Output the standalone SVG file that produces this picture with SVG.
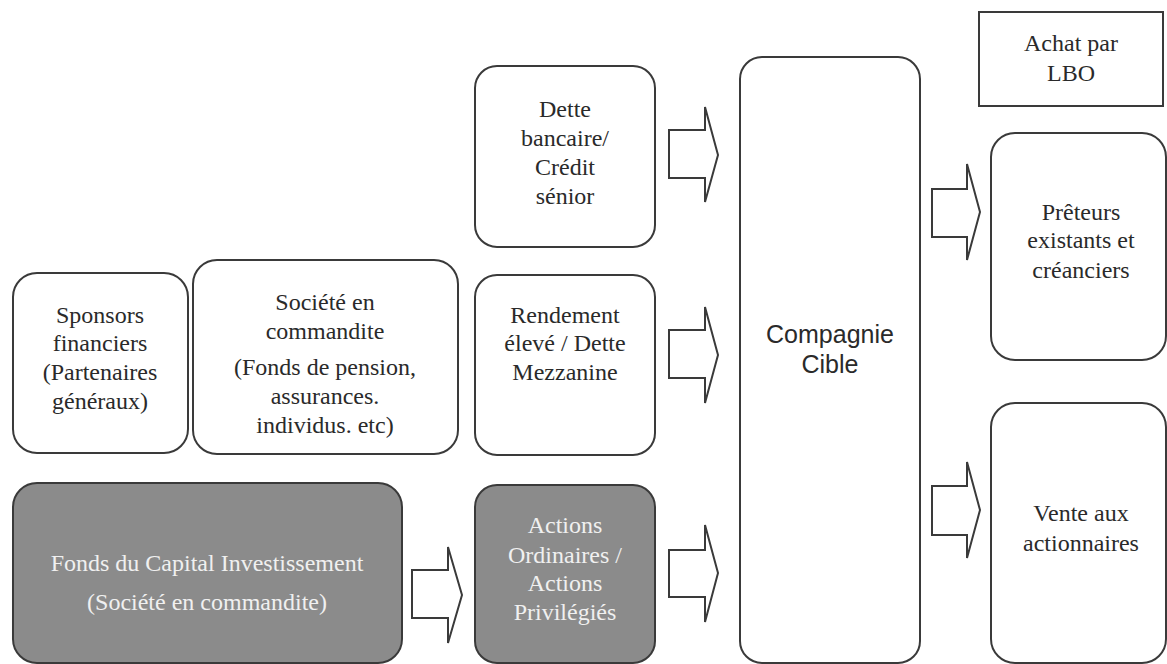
<svg xmlns="http://www.w3.org/2000/svg" width="1167" height="664" viewBox="0 0 1167 664">
<style>
.box{fill:#fff;stroke:#3a3a3a;stroke-width:2}
.gbox{fill:#8b8b8b;stroke:#3a3a3a;stroke-width:2}
.arr{fill:#fff;stroke:#3a3a3a;stroke-width:2;stroke-linejoin:miter}
.t{font-family:"Liberation Serif","Times New Roman",serif;font-size:24px;fill:#2a2a2a;text-anchor:middle}
.tw{font-family:"Liberation Serif","Times New Roman",serif;font-size:24px;fill:#f0f0f0;text-anchor:middle}
.ts{font-family:"Liberation Sans",Arial,sans-serif;font-size:25px;fill:#2a2a2a;text-anchor:middle}
</style>
<rect width="1167" height="664" fill="#fff"/>
<g id="achat">
<rect class="box" x="979" y="12" width="184" height="94"/>
<text class="t" x="1071" y="51">Achat par</text>
<text class="t" x="1071" y="81">LBO</text>
</g>
<g id="dette">
<rect class="box" x="475" y="66" width="180" height="181" rx="22"/>
<text class="t" x="565" y="117">Dette</text>
<text class="t" x="565" y="146">bancaire/</text>
<text class="t" x="565" y="175">Crédit</text>
<text class="t" x="565" y="204">sénior</text>
</g>
<g id="sponsors">
<rect class="box" x="13" y="273" width="175" height="180" rx="24"/>
<text class="t" x="100" y="323">Sponsors</text>
<text class="t" x="100" y="351">financiers</text>
<text class="t" x="100" y="380">(Partenaires</text>
<text class="t" x="100" y="409">généraux)</text>
</g>
<g id="societe">
<rect class="box" x="193" y="260" width="265" height="194" rx="24"/>
<text class="t" x="325" y="310">Société en</text>
<text class="t" x="325" y="339">commandite</text>
<text class="t" x="325" y="375">(Fonds de pension,</text>
<text class="t" x="325" y="404">assurances.</text>
<text class="t" x="325" y="433">individus. etc)</text>
</g>
<g id="rendement">
<rect class="box" x="475" y="275" width="180" height="180" rx="22"/>
<text class="t" x="565" y="323">Rendement</text>
<text class="t" x="565" y="351">élevé / Dette</text>
<text class="t" x="565" y="380">Mezzanine</text>
</g>
<g id="fonds">
<rect class="gbox" x="13" y="483" width="389" height="180" rx="24"/>
<text class="tw" x="207" y="571">Fonds du Capital Investissement</text>
<text class="tw" x="207" y="610">(Société en commandite)</text>
</g>
<g id="actions">
<rect class="gbox" x="475" y="485" width="180" height="178" rx="22"/>
<text class="tw" x="565" y="533">Actions</text>
<text class="tw" x="565" y="563">Ordinaires /</text>
<text class="tw" x="565" y="591">Actions</text>
<text class="tw" x="565" y="620">Privilégiés</text>
</g>
<g id="compagnie">
<rect class="box" x="740" y="57" width="180" height="606" rx="22"/>
<text class="ts" x="830" y="343">Compagnie</text>
<text class="ts" x="830" y="373">Cible</text>
</g>
<g id="preteurs">
<rect class="box" x="991" y="133" width="175" height="227" rx="24"/>
<text class="t" x="1081" y="220">Prêteurs</text>
<text class="t" x="1081" y="248">existants et</text>
<text class="t" x="1081" y="278">créanciers</text>
</g>
<g id="vente">
<rect class="box" x="991" y="403" width="175" height="260" rx="24"/>
<text class="t" x="1081" y="521">Vente aux</text>
<text class="t" x="1081" y="551">actionnaires</text>
</g>
<g id="connectors">
<path class="arr" d="M669 130 H705 V107 L718 155 L705 202 V178 H669 Z"/>
<path class="arr" d="M669 330 H705 V307 L718 355 L705 403 V378 H669 Z"/>
<path class="arr" d="M669 550 H705 V525 L718 573 L705 622 V597 H669 Z"/>
<path class="arr" d="M412 570 H448 V547 L462 595 L448 643 V618 H412 Z"/>
<path class="arr" d="M932 189 H967 V164 L980 212 L967 260 V237 H932 Z"/>
<path class="arr" d="M932 486 H967 V462 L980 510 L967 558 V535 H932 Z"/>
</g>
</svg>
